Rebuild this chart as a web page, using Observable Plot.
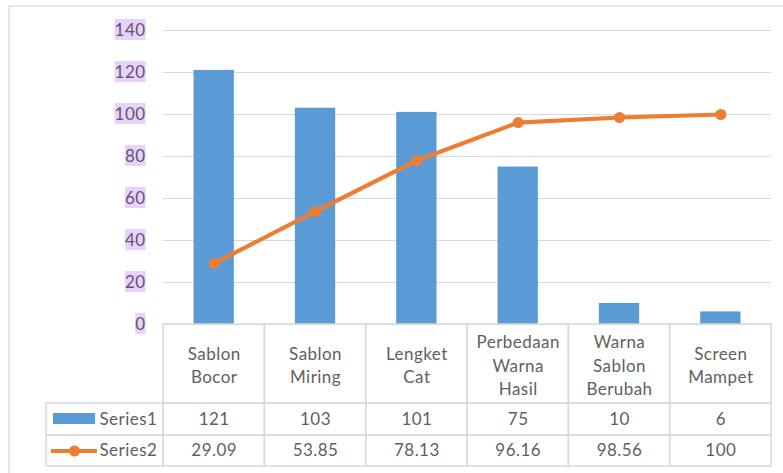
<!DOCTYPE html>
<html>
<head>
<meta charset="utf-8">
<script src="https://cdn.jsdelivr.net/npm/d3@7"></script>
<script src="https://cdn.jsdelivr.net/npm/@observablehq/plot@0.6"></script>
<style>
  html, body { margin: 0; padding: 0; background: #fff; overflow: hidden; width: 783px; height: 473px; }
  #wrap { position: relative; width: 783px; height: 473px; }
  #border { position: absolute; left: 8px; top: 5px; width: 800px; height: 500px; border: 2px solid #e6e6e6; box-sizing: border-box; pointer-events: none; }
  #chart { position: absolute; left: 0; top: 0; }
  #chart svg text { letter-spacing: 0.45px; }
</style>
</head>
<body>
<div id="wrap"><div id="border"></div><div id="chart"></div></div>
<script>
// ---- data ----
const categories = ["Sablon\nBocor", "Sablon\nMiring", "Lengket\nCat", "Perbedaan\nWarna\nHasil", "Warna\nSablon\nBerubah", "Screen\nMampet"];
const series1 = [121, 103, 101, 75, 10, 6];
const series2 = [29.09, 53.85, 78.13, 96.16, 98.56, 100];
const series2Labels = ["29.09", "53.85", "78.13", "96.16", "98.56", "100"];
const series1Labels = ["121", "103", "101", "75", "10", "6"];
const seriesNames = ["Series1", "Series2"];
const yTicks = [0, 20, 40, 60, 80, 100, 120, 140];

// ---- layout (y units below zero hold the data table) ----
const pxPerUnit = 2.1;
const headerBottom = -79 / pxPerUnit;
const row1Bottom = -111 / pxPerUnit;
const row2Bottom = -142 / pxPerUnit;
const legendLeft = -1.655;
const colLeft = -0.5, colRight = categories.length - 0.5;

const BLUE = "#5b9bd5", ORANGE = "#ed7d31", GRID = "#d9d9d9", TEXT = "#5f5f5f";
const FONT = "Lato";

const rows = categories.map((c, i) => ({i, cat: c, s1: series1[i], s2: series2[i], l1: series1Labels[i], l2: series2Labels[i]}));

const tableRows = [
  {y1: 0, y2: headerBottom},
  {y1: headerBottom, y2: row1Bottom},
  {y1: row1Bottom, y2: row2Bottom}
];
const cells = [];
rows.forEach(r => tableRows.forEach(t => cells.push({i: r.i, y1: t.y1, y2: t.y2})));
const legendCells = tableRows.slice(1).map((t, k) => ({y1: t.y1, y2: t.y2, name: seriesNames[k]}));

const chart = Plot.plot({
  width: 783,
  height: 473,
  marginLeft: 46,
  marginRight: 12,
  marginTop: 30,
  marginBottom: 7,
  style: {fontFamily: FONT, background: "transparent"},
  x: {type: "linear", domain: [legendLeft, colRight], axis: null},
  y: {type: "linear", domain: [row2Bottom, 140], axis: null},
  marks: [
    // gridlines
    Plot.ruleY(yTicks, {y: d => d, x1: colLeft, x2: colRight, stroke: GRID, strokeWidth: 1.2}),
    // tick labels
    Plot.text(yTicks, {x: colLeft, y: d => d, text: d => String(d), dx: -18, textAnchor: "end", fontSize: 17, fill: "#605672", ariaDescription: "ytick-labels"}),
    // bars
    Plot.rectY(rows, {x1: d => d.i - 0.5, x2: d => d.i + 0.5, y1: 0, y2: "s1", insetLeft: 30.5, insetRight: 30.5, fill: BLUE}),
    // line
    Plot.line(rows, {x: "i", y: "s2", stroke: ORANGE, strokeWidth: 4.2}),
    Plot.dot(rows, {x: "i", y: "s2", r: 5.5, fill: ORANGE}),
    // table cells
    Plot.rect(cells, {x1: d => d.i - 0.5, x2: d => d.i + 0.5, y1: "y1", y2: "y2", fill: "none", stroke: GRID, strokeWidth: 1.5}),
    Plot.rect(legendCells, {x1: legendLeft, x2: colLeft, y1: "y1", y2: "y2", fill: "none", stroke: GRID, strokeWidth: 1.5}),
    // category labels
    Plot.text(rows, {x: "i", y: headerBottom / 2, text: "cat", fontSize: 17, lineHeight: 1.38, fill: TEXT}),
    // values
    Plot.text(rows, {x: "i", y: (headerBottom + row1Bottom) / 2, text: "l1", fontSize: 17, fill: TEXT}),
    Plot.text(rows, {x: "i", y: (row1Bottom + row2Bottom) / 2, text: "l2", fontSize: 17, fill: TEXT}),
    // legend keys
    Plot.rect([seriesNames[0]], {x1: legendLeft, x2: colLeft, y1: headerBottom, y2: row1Bottom, insetLeft: 7, insetRight: 68, insetTop: 10, insetBottom: 11, fill: BLUE}),
    Plot.ruleY([seriesNames[1]], {y: (row1Bottom + row2Bottom) / 2, x1: legendLeft, x2: colLeft, insetLeft: 5, insetRight: 66, stroke: ORANGE, strokeWidth: 4}),
    Plot.dot([seriesNames[1]], {x: legendLeft, y: (row1Bottom + row2Bottom) / 2, dx: 28, r: 5.5, fill: ORANGE}),
    Plot.text(legendCells, {x: legendLeft, y: d => (d.y1 + d.y2) / 2, text: "name", dx: 53, textAnchor: "start", fontSize: 17, fill: TEXT})
  ]
});
document.getElementById("chart").appendChild(chart);

// lavender highlight behind the y tick labels
const g = chart.querySelector('g[aria-description="ytick-labels"]');
if (g) {
  g.querySelectorAll("text").forEach(t => {
    const b = t.getBBox();
    const r = document.createElementNS("http://www.w3.org/2000/svg", "rect");
    r.setAttribute("x", b.x);
    r.setAttribute("y", b.y);
    r.setAttribute("width", b.width);
    r.setAttribute("height", b.height);
    r.setAttribute("fill", "#e8d1fa");
    const tr = t.getAttribute("transform");
    if (tr) r.setAttribute("transform", tr);
    g.insertBefore(r, t);
  });
}
</script>
</body>
</html>
